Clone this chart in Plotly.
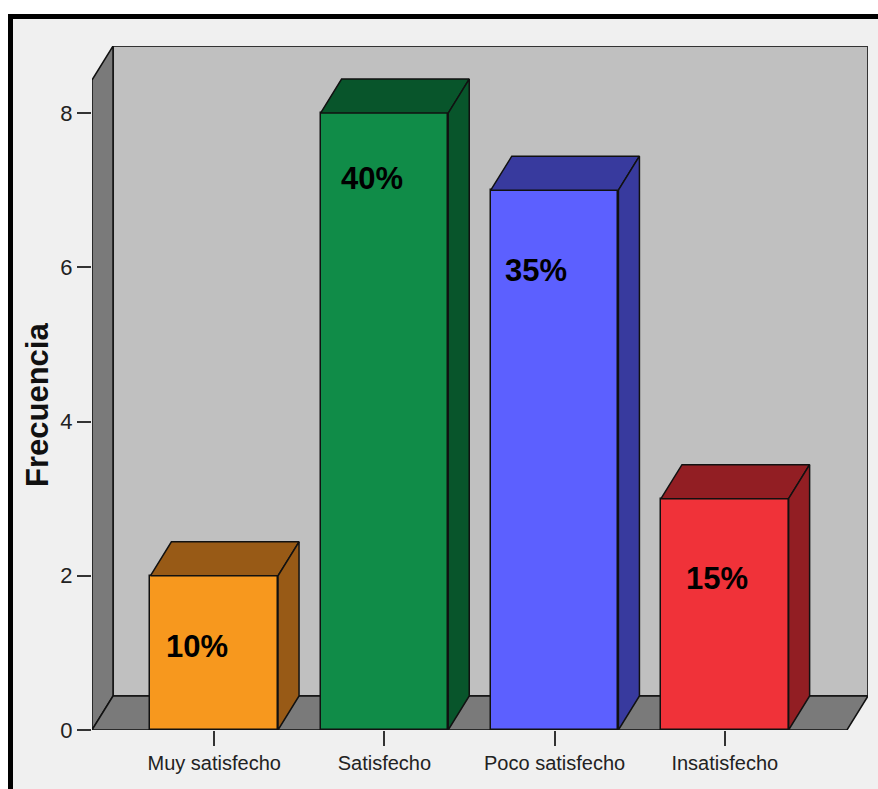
import plotly.graph_objects as go

# ---- data ----
categories = ["Muy satisfecho", "Satisfecho", "Poco satisfecho", "Insatisfecho"]
frequencies = [2, 8, 7, 3]
percent_labels = ["10%", "40%", "35%", "15%"]
y_ticks = [0, 2, 4, 6, 8]

# ---- styling ----
front_colors = ["#F7981E", "#108C48", "#5C60FF", "#F03239"]
shade_colors = ["#985A16", "#08552B", "#383A9E", "#921E23"]
label_dx = [-0.10, -0.074, -0.11, -0.044]      # label offset from bar centre (category units)
label_y = [1.08, 7.15, 5.96, 1.96]              # label height (value units)

W, H = 878, 789
M_L, M_R, M_T, M_B = 92, 10, 46, 59
BAR_W = 0.75
X0, X1 = -0.718, 3.718          # front edge of the floor
DX, DY = 0.1235, 0.441          # depth offset of the 3-D box
Y_TOP = 8.87                    # top of back wall
WALL = "#C0C0C0"
SIDE = "#7A7A7A"
EDGE = "#111111"

fig = go.Figure()


def path_shape(xs, ys, fill, width=1.5, color=EDGE):
    d = "M " + " L ".join(f"{x},{y}" for x, y in zip(xs, ys)) + " Z"
    return dict(type="path", xref="x", yref="y", path=d, fillcolor=fill,
                line=dict(color=color, width=width), layer="below")


def poly(xs, ys, fill, width=1.5, color=EDGE):
    fig.add_trace(go.Scatter(
        x=xs + [xs[0]], y=ys + [ys[0]], mode="lines", fill="toself",
        fillcolor=fill, line=dict(color=color, width=width),
        hoverinfo="skip", showlegend=False))


def paper_x(px):
    return (px - M_L) / (W - M_L - M_R)


def paper_y(py):
    return (H - M_B - py) / (H - M_T - M_B)


shapes = [
    # page panel with heavy frame
    dict(type="rect", xref="paper", yref="paper",
         x0=paper_x(10.5), x1=paper_x(900), y0=paper_y(820), y1=paper_y(16.5),
         line=dict(color="black", width=5), fillcolor="#F0F0F0", layer="below"),
    # back wall, left wall, floor
    path_shape([X0 + DX, X1 + DX, X1 + DX, X0 + DX], [DY, DY, Y_TOP, Y_TOP], WALL, 2, "#333333"),
    path_shape([X0, X0 + DX, X0 + DX, X0], [0, DY, Y_TOP, Y_TOP - DY], SIDE),
    path_shape([X0, X1, X1 + DX, X0 + DX], [0, 0, DY, DY], SIDE),
]

# bar front faces
fig.add_trace(go.Bar(
    x=list(range(len(categories))), y=frequencies, width=BAR_W,
    marker=dict(color=front_colors, line=dict(color=EDGE, width=1.5)),
    hoverinfo="skip", showlegend=False))

# bar top and side faces
for i, v in enumerate(frequencies):
    l, r = i - BAR_W / 2, i + BAR_W / 2
    poly([l, l + DX, r + DX, r], [v, v + DY, v + DY, v], shade_colors[i])
    poly([r, r + DX, r + DX, r], [0, DY, v + DY, v], shade_colors[i])

annotations = []
for i, txt in enumerate(percent_labels):
    annotations.append(dict(
        x=i + label_dx[i], y=label_y[i], xref="x", yref="y", text=txt,
        showarrow=False, xanchor="center", yanchor="middle",
        font=dict(family="Liberation Sans, Arial", size=31,
                  color="black", weight="bold")))

annotations.append(dict(
    x=paper_x(37), y=paper_y(405), xref="paper", yref="paper",
    text="Frecuencia", textangle=-90, showarrow=False,
    xanchor="center", yanchor="middle",
    font=dict(family="Liberation Sans, Arial", size=31, color="#111111",
              weight="bold")))

tick_font = dict(family="Liberation Sans, Arial", size=20, color="#222222")

fig.update_layout(
    width=W, height=H,
    margin=dict(l=M_L, r=M_R, t=M_T, b=M_B, pad=0),
    paper_bgcolor="white",
    plot_bgcolor="rgba(0,0,0,0)",
    bargap=0,
    annotations=annotations,
    shapes=shapes,
    xaxis=dict(range=[X0, X1 + DX], tickvals=list(range(len(categories))),
               ticktext=categories, ticks="outside", ticklen=15, tickwidth=1.5,
               tickcolor="#333333", showgrid=False, zeroline=False, showline=False,
               tickfont=tick_font, fixedrange=True),
    yaxis=dict(range=[0, Y_TOP], tickvals=y_ticks, ticks="outside", ticklen=14,
               tickwidth=1.5, tickcolor="#333333", showgrid=False, zeroline=False,
               showline=False, tickfont=dict(tick_font, size=22), fixedrange=True),
)

fig.write_html("out.html")
